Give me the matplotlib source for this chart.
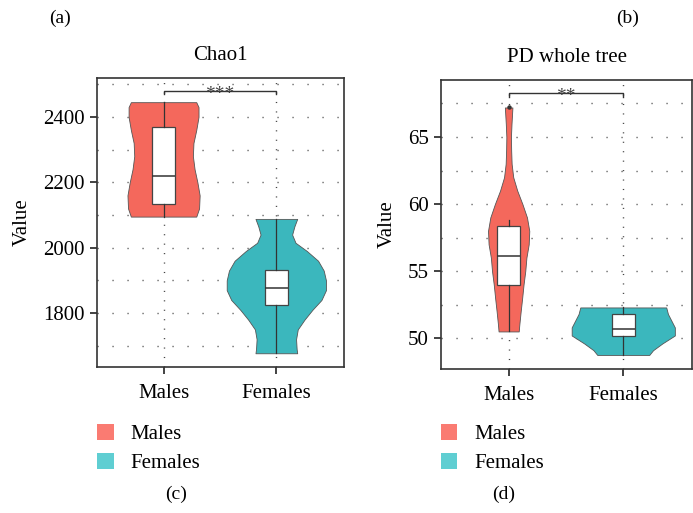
import matplotlib
matplotlib.use("Agg")
import matplotlib.pyplot as plt
from matplotlib.patches import Patch
import numpy as np

plt.rcParams['font.family'] = ['Liberation Serif', 'DejaVu Serif']

groups = ['Males', 'Females']
panel_titles = ['Chao1', 'PD whole tree']
sig_labels = ['***', '**']

# violin outlines: value levels and half-widths (density)
chao_male_levels = [2445, 2430, 2400, 2360, 2320, 2280, 2240, 2200, 2160, 2120, 2095]
chao_male_dens = [0.29, 0.31, 0.31, 0.29, 0.265, 0.26, 0.275, 0.30, 0.32, 0.315, 0.29]
chao_female_levels = [2088, 2065, 2040, 2015, 1990, 1960, 1930, 1900, 1870, 1840, 1810, 1780, 1750, 1720, 1690, 1677]
chao_female_dens = [0.185, 0.16, 0.14, 0.17, 0.27, 0.37, 0.42, 0.44, 0.44, 0.40, 0.32, 0.25, 0.19, 0.175, 0.18, 0.185]
pd_male_levels = [67.2, 66, 65, 64, 63, 62, 61, 60, 59, 58, 57, 56, 55, 54, 53, 52, 51, 50.5]
pd_male_dens = [0.033, 0.025, 0.02, 0.022, 0.026, 0.04, 0.075, 0.12, 0.16, 0.18, 0.175, 0.155, 0.145, 0.13, 0.118, 0.105, 0.093, 0.088]
pd_female_levels = [52.29, 51.8, 51.3, 50.8, 50.2, 49.6, 49.1, 48.75]
pd_female_dens = [0.375, 0.39, 0.42, 0.45, 0.45, 0.34, 0.26, 0.227]

# box stats: whislo, q1, med, q3, whishi
chao_box = [[2095, 2134, 2219, 2370, 2445], [1677, 1825, 1876, 1932, 2088]]
pd_box = [[50.5, 53.96, 56.14, 58.36, 58.8], [48.75, 50.17, 50.65, 51.79, 52.29]]
pd_outliers = [[67.2], []]

# significance bracket height and tick drop
chao_sig = [2479, 2469]
pd_sig = [68.26, 68.0]

violin_colors = ['#F4685C', '#3BB7BD']
legend_colors = ['#FA7B72', '#5FCED2']
edge = '#555555'

fig = plt.figure(figsize=(6.93, 5.13), dpi=100)
ax1 = fig.add_axes([0.140, 0.2846, 0.3564, 0.5634])
ax2 = fig.add_axes([0.6364, 0.2807, 0.3622, 0.5634])

panels = [
    (ax1, [(chao_male_levels, chao_male_dens), (chao_female_levels, chao_female_dens)], chao_box, [[], []], chao_sig,
     (1635, 2519), np.arange(1800, 2401, 200), np.arange(1700, 2501, 100)),
    (ax2, [(pd_male_levels, pd_male_dens), (pd_female_levels, pd_female_dens)], pd_box, pd_outliers, pd_sig,
     (47.7, 69.25), np.arange(50, 66, 5), np.arange(50, 68.6, 2.5)),
]

for k, (ax, violins, boxes, outl, sig, ylim, majors, gridys) in enumerate(panels):
    ax.set_xlim(-0.59, 1.6)
    ax.set_ylim(*ylim)
    # dotted grid
    for gy in gridys:
        ax.axhline(gy, color='#444444', lw=1.0, dashes=(0.8, 10), zorder=0)
    for gx in range(len(groups)):
        ax.axvline(gx, color='#444444', lw=1.0, dashes=(0.8, 6), zorder=0)

    for i, (lv, dn) in enumerate(violins):
        lv = np.array(lv)
        dn = np.array(dn)
        ax.fill_betweenx(lv, i - dn, i + dn, facecolor=violin_colors[i], edgecolor=edge,
                         linewidth=0.6, zorder=2)

    stats = []
    for i, b in enumerate(boxes):
        stats.append(dict(whislo=b[0], q1=b[1], med=b[2], q3=b[3], whishi=b[4], fliers=outl[i]))
    ax.bxp(stats, positions=range(len(groups)), widths=0.205, patch_artist=True, showcaps=False,
           boxprops=dict(facecolor='white', edgecolor='#444444', linewidth=0.9),
           whiskerprops=dict(color='#333333', linewidth=0.9),
           medianprops=dict(color='#333333', linewidth=1.1),
           flierprops=dict(marker='o', markersize=2.2, markerfacecolor='#333333', markeredgecolor='#333333'),
           manage_ticks=False, zorder=3)

    # significance bracket
    ax.plot([0, 0, 1, 1], [sig[1], sig[0], sig[0], sig[1]], color='#333333', lw=1.0, zorder=4)
    ax.annotate(sig_labels[k], (0.5, sig[0]), xytext=(0, -5.5), textcoords='offset points',
                ha='center', va='baseline', fontsize=14, color='#444444', zorder=5)

    ax.set_xticks(range(len(groups)))
    ax.set_xticklabels(groups, fontsize=15)
    ax.set_yticks(majors)
    ax.set_yticklabels([f'{v:g}' for v in majors], fontsize=15)
    ax.tick_params(direction='out', length=5, width=1.2, color='#222222', pad=4)
    ax.tick_params(axis='x', pad=7)
    for s in ax.spines.values():
        s.set_color('#333333')
        s.set_linewidth(1.2)
    ax.set_title(panel_titles[k], fontsize=15, pad=13)
    ax.set_ylabel('Value', fontsize=15, labelpad=8)

handles = [Patch(facecolor=c, edgecolor='none') for c in legend_colors]
for x0 in [0.140, 0.636]:
    fig.legend(handles, groups, loc='upper left', bbox_to_anchor=(x0, 0.173), frameon=False,
               fontsize=15, handlelength=0.8, handleheight=0.8, handletextpad=0.8,
               labelspacing=0.4, borderpad=0, borderaxespad=0)

fig.text(60 / 693, 1 - 18 / 513, '(a)', ha='center', va='center', fontsize=14)
fig.text(628 / 693, 1 - 18 / 513, '(b)', ha='center', va='center', fontsize=14)
fig.text(176 / 693, 1 - 494 / 513, '(c)', ha='center', va='center', fontsize=14)
fig.text(504 / 693, 1 - 494 / 513, '(d)', ha='center', va='center', fontsize=14)

fig.savefig('out.png', dpi=100)
